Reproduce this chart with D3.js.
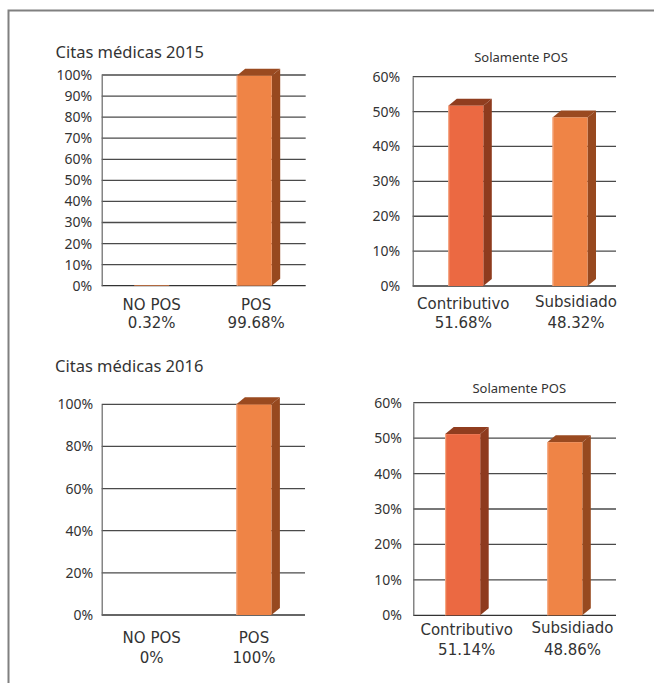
<!DOCTYPE html>
<html>
<head>
<meta charset="utf-8">
<script src="https://cdn.jsdelivr.net/npm/d3@7"></script>
<style>
  html, body { margin: 0; padding: 0; background: #fff; }
  svg { display: block; font-family: "Noto Sans", "DejaVu Sans", sans-serif; }
</style>
</head>
<body>
<svg id="chart" width="654" height="683"></svg>
<script>
// Citas médicas: distribución NO POS / POS y régimen dentro del POS
const titles = ["Citas médicas 2015", "Citas médicas 2016"];
const subtitle = "Solamente POS";

const planCats = ["NO POS", "POS"];
const plan2015 = [0.32, 99.68];
const plan2016 = [0, 100];

const regimenCats = ["Contributivo", "Subsidiado"];
const regimen2015 = [51.68, 48.32];
const regimen2016 = [51.14, 48.86];

const ticksPlan2015 = [0, 10, 20, 30, 40, 50, 60, 70, 80, 90, 100];
const ticksPlan2016 = [0, 20, 40, 60, 80, 100];
const ticksRegimen = [0, 10, 20, 30, 40, 50, 60];

const colors = {
  "NO POS":       { front: "#EF8446", top: "#9A4A20", side: "#97491F" },
  "POS":          { front: "#EF8446", top: "#9A4A20", side: "#97491F" },
  "Contributivo": { front: "#EB6942", top: "#903D1F", side: "#8E3B1E" },
  "Subsidiado":   { front: "#EF8446", top: "#9A4A20", side: "#97491F" }
};

const svg = d3.select("#chart");

// frame along the top and left edges
svg.append("path")
  .attr("d", "M8.5,683 L8.5,10.5 L654,10.5")
  .attr("fill", "none").attr("stroke", "#808080").attr("stroke-width", 2);

function drawPanel(cfg) {
  const g = svg.append("g");
  const y = d3.scaleLinear().domain([0, d3.max(cfg.ticks)]).range([cfg.bottom, cfg.top]);
  const x = d3.scalePoint().domain(cfg.cats)
    .range([cfg.left + cfg.barPad[0], cfg.right - cfg.barPad[1]]);
  const xl = d3.scalePoint().domain(cfg.cats)
    .range([cfg.left + cfg.labelPad[0], cfg.right - cfg.labelPad[1]]);

  // gridlines
  g.append("g").selectAll("line").data(cfg.ticks).join("line")
    .attr("x1", cfg.left).attr("x2", cfg.right)
    .attr("y1", d => y(d)).attr("y2", d => y(d))
    .attr("stroke", d => d === 0 ? "#333" : "#4a4a4a")
    .attr("stroke-width", 1.3);

  // y axis with percent labels
  const axis = d3.axisLeft(y).tickValues(cfg.ticks).tickSize(0)
    .tickPadding(cfg.tickGap).tickFormat(d => d + "%");
  const ag = g.append("g").attr("transform", `translate(${cfg.left},0)`).call(axis);
  ag.select(".domain").attr("stroke", "#666").attr("stroke-width", 1.2);
  ag.selectAll("text").attr("font-size", 14).attr("fill", "#333")
    .attr("font-family", "'Noto Sans', sans-serif");

  // 3D columns
  const bw = 35, dx = 8.5, dy = 7;
  const bars = g.append("g").selectAll("g").data(cfg.cats.map((c, i) => ({ c, v: cfg.values[i] })))
    .join("g");
  bars.each(function (d) {
    const b = d3.select(this);
    const x0 = x(d.c) - bw / 2;
    const yt = y(d.v), yb = y(0);
    const col = colors[d.c];
    if (yb - yt < 1) {
      b.append("rect").attr("x", x0).attr("y", yt).attr("width", bw)
        .attr("height", yb - yt).attr("fill", col.front);
      return;
    }
    b.append("path")
      .attr("d", `M${x0 + bw},${yt} L${x0 + bw + dx},${yt - dy} L${x0 + bw + dx},${yb - dy} L${x0 + bw},${yb} Z`)
      .attr("fill", col.side);
    b.append("path")
      .attr("d", `M${x0},${yt} L${x0 + dx},${yt - dy} L${x0 + bw + dx},${yt - dy} L${x0 + bw},${yt} Z`)
      .attr("fill", col.top);
    b.append("rect").attr("x", x0).attr("y", yt).attr("width", bw)
      .attr("height", yb - yt).attr("fill", col.front);
    b.append("line").attr("x1", x0 + 0.5).attr("x2", x0 + 0.5).attr("y1", yt).attr("y2", yb)
      .attr("stroke", "#F6B08C").attr("stroke-width", 1);
  });

  // category names and values under the axis
  const items = cfg.cats.map((c, i) => ({ c, v: cfg.values[i], i }));
  const lab = g.append("g")
    .attr("font-family", "'DejaVu Sans', sans-serif")
    .attr("font-size", 15).attr("fill", "#333").attr("text-anchor", "middle");
  lab.selectAll("text.name").data(items).join("text").attr("class", "name")
    .attr("x", d => xl(d.c)).attr("y", d => cfg.labelY[0] + cfg.labelShift[d.i])
    .text(d => d.c);
  lab.selectAll("text.value").data(items).join("text").attr("class", "value")
    .attr("x", d => xl(d.c)).attr("y", cfg.labelY[1])
    .text(d => d.v + "%");

  // heading
  g.append("text").attr("x", cfg.titleX).attr("y", cfg.titleY)
    .attr("text-anchor", cfg.titleAnchor)
    .attr("font-size", cfg.titleSize).attr("fill", "#333")
    .text(cfg.title);
}

drawPanel({
  cats: planCats, values: plan2015, ticks: ticksPlan2015,
  left: 101.7, right: 305.7, top: 75, bottom: 285.7,
  barPad: [50, 51.5], labelPad: [50, 49.5], tickGap: 9.5,
  labelY: [310, 328], labelShift: [0, 0],
  title: titles[0], titleX: 55.5, titleY: 58, titleAnchor: "start", titleSize: 16.5
});

drawPanel({
  cats: regimenCats, values: regimen2015, ticks: ticksRegimen,
  left: 412.7, right: 616, top: 76.7, bottom: 286,
  barPad: [53.1, 46], labelPad: [50.6, 40], tickGap: 12.5,
  labelY: [309, 328], labelShift: [0, -2],
  title: subtitle, titleX: 521, titleY: 61.5, titleAnchor: "middle", titleSize: 13
});

drawPanel({
  cats: planCats, values: plan2016, ticks: ticksPlan2016,
  left: 101.7, right: 305, top: 404.3, bottom: 615,
  barPad: [50, 51.1], labelPad: [50, 51], tickGap: 8.5,
  labelY: [643.3, 662.7], labelShift: [0, 0],
  title: titles[1], titleX: 55, titleY: 371.5, titleAnchor: "start", titleSize: 16.5
});

drawPanel({
  cats: regimenCats, values: regimen2016, ticks: ticksRegimen,
  left: 413.3, right: 616, top: 402.7, bottom: 615.3,
  barPad: [49.4, 51.2], labelPad: [53.4, 43.5], tickGap: 11.5,
  labelY: [635, 655], labelShift: [0, -2],
  title: subtitle, titleX: 519.3, titleY: 393.3, titleAnchor: "middle", titleSize: 13
});
</script>
</body>
</html>
